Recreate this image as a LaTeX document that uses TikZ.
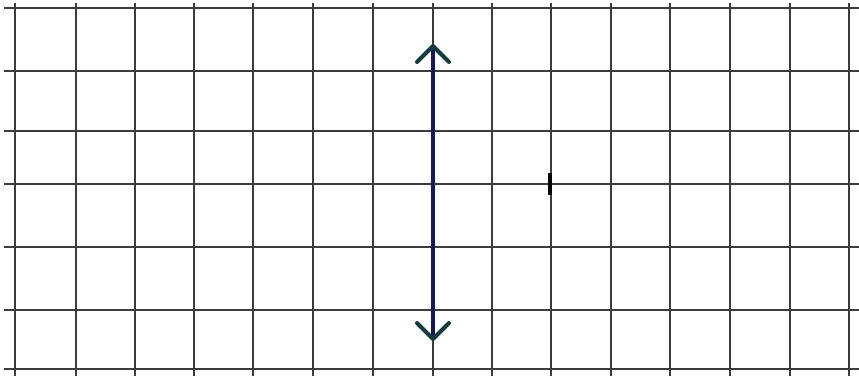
\documentclass[tikz,border=0pt]{standalone}
\usepackage{xcolor}
\usepackage{tikz}
\usetikzlibrary{calc}

\definecolor{gridgray}{RGB}{60,60,60}
\definecolor{lensblue}{RGB}{22,22,105}
\definecolor{headteal}{RGB}{16,62,62}

\begin{document}
\begin{tikzpicture}[x=0.75pt,y=-0.75pt]
  % Frame (pixel units, y downwards)
  \useasboundingbox (0,0) rectangle (859,376);
  \fill[white] (0,0) rectangle (859,376);

  % Vertical grid lines
  \foreach \x in {15,76,135,194,253,313,373,433,492,551,611,670,730,790,849}
    \draw[gridgray,line width=1.2pt] (\x,3) -- (\x,376);
  % Horizontal grid lines
  \foreach \y in {8,71,131,184,247,310,369}
    \draw[gridgray,line width=1.2pt] (4,\y) -- (859,\y);

  % Ends of the double arrow
  \coordinate (Top) at (433,46);
  \coordinate (Bot) at (433,339);

  % Shaft
  \draw[lensblue,line width=2.3pt] (Top) -- (Bot);

  % Arrow heads
  \draw[headteal,line width=3pt,line cap=round,line join=round]
    (Top) ++(-16,16) -- (Top) -- ++(16,16);
  \draw[headteal,line width=3pt,line cap=round,line join=round]
    (Bot) ++(-16,-16) -- (Bot) -- ++(16,-16);

  % Tick on the axis
  \coordinate (F) at (550,184);
  \draw[black,line width=2.3pt] ($(F)+(0,-11)$) -- ($(F)+(0,11)$);
\end{tikzpicture}
\end{document}
